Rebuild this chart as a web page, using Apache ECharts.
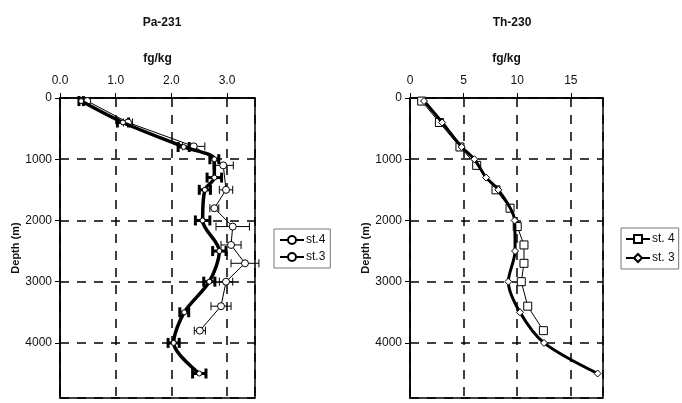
<!DOCTYPE html>
<html>
<head>
<meta charset="utf-8">
<script src="https://cdn.jsdelivr.net/npm/echarts@6/dist/echarts.min.js"></script>
<style>
  html, body { margin: 0; padding: 0; background: #fff; }
  #chart { width: 682px; height: 403px; }
</style>
</head>
<body>
<div id="chart"></div>
<script>
  // Pa-231 (fg/kg) profiles
  const paDepth4 = [50, 400, 790, 1100, 1500, 1800, 2100, 2400, 2700, 3000, 3400, 3800]
  const paSt4 = [0.49, 1.22, 2.4, 2.93, 2.98, 2.77, 3.1, 3.07, 3.32, 2.98, 2.89, 2.51]
  const paSt4Err = [0.05, 0.08, 0.2, 0.18, 0.12, 0.08, 0.3, 0.18, 0.25, 0.12, 0.18, 0.1]
  const paDepth3 = [50, 400, 800, 1000, 1300, 1500, 2000, 2500, 3000, 3500, 4000, 4500]
  const paSt3 = [0.38, 1.13, 2.22, 2.77, 2.77, 2.6, 2.56, 2.86, 2.68, 2.23, 2.04, 2.5]
  const paSt3Err = [0.04, 0.1, 0.1, 0.08, 0.13, 0.1, 0.13, 0.12, 0.1, 0.08, 0.1, 0.12]

  // Th-230 (fg/kg) profiles
  const thDepth4 = [50, 400, 800, 1100, 1500, 1800, 2100, 2400, 2700, 3000, 3400, 3800]
  const thSt4 = [1.09, 2.74, 4.66, 6.22, 8.02, 9.33, 10.0, 10.63, 10.63, 10.38, 10.98, 12.44]
  const thDepth3 = [50, 400, 800, 1000, 1300, 1500, 2000, 2500, 3000, 3500, 4000, 4500]
  const thSt3 = [1.31, 3.0, 4.82, 6.0, 7.1, 8.24, 9.76, 9.8, 9.17, 10.26, 12.5, 17.5]

  const font = 'Liberation Sans, Arial, sans-serif'
  const dash = [9, 8]

  function pairs(xs, ys) {
    return xs.map((v, i) => [v, ys[i]])
  }
  function errData(xs, ys, es) {
    return xs.map((v, i) => [v, ys[i], es[i]])
  }
  function errBars(lw, cap) {
    return function (params, api) {
      const x = api.value(0), y = api.value(1), e = api.value(2)
      const a = api.coord([x - e, y])
      const b = api.coord([x + e, y])
      const st = { stroke: '#000', lineWidth: lw }
      return {
        type: 'group',
        children: [
          { type: 'line', shape: { x1: a[0], y1: a[1], x2: b[0], y2: b[1] }, style: st },
          { type: 'line', shape: { x1: a[0], y1: a[1] - cap, x2: a[0], y2: a[1] + cap }, style: st },
          { type: 'line', shape: { x1: b[0], y1: b[1] - cap, x2: b[0], y2: b[1] + cap }, style: st }
        ]
      }
    }
  }

  function xAx(idx, max, interval, fmt) {
    return {
      type: 'value', gridIndex: idx, position: 'top', min: 0, max: max, interval: interval,
      name: 'fg/kg', nameLocation: 'middle', nameGap: 33,
      nameTextStyle: { fontFamily: font, fontWeight: 'bold', fontSize: 12, color: '#111' },
      axisLine: { show: true, lineStyle: { color: '#000', width: 1.5 } },
      axisTick: { show: true, length: 5, lineStyle: { color: '#000' } },
      axisLabel: { fontFamily: font, fontSize: 12, color: '#111', margin: 11, showMaxLabel: false, formatter: fmt },
      splitLine: { show: true, lineStyle: { color: '#000', width: 1.5, type: dash } }
    }
  }
  function yAx(idx) {
    return {
      type: 'value', gridIndex: idx, inverse: true, min: 0, max: 4900, interval: 1000,
      name: 'Depth (m)', nameLocation: 'middle', nameGap: 36, nameRotate: 90,
      nameTextStyle: { fontFamily: font, fontWeight: 'bold', fontSize: 11, color: '#111' },
      axisLine: { show: true, lineStyle: { color: '#000', width: 1.5 } },
      axisTick: { show: true, length: 5, lineStyle: { color: '#000' } },
      axisLabel: { fontFamily: font, fontSize: 12, color: '#111', margin: 8, showMaxLabel: false,
        formatter: v => String(v) },
      splitLine: { show: true, lineStyle: { color: '#000', width: 1.5, type: dash } }
    }
  }

  const chart = echarts.init(document.getElementById('chart'))
  chart.setOption({
    backgroundColor: '#fff',
    animation: false,
    title: [
      { text: 'Pa-231', left: 157, top: 12, textAlign: 'center',
        textStyle: { fontFamily: font, fontWeight: 'bold', fontSize: 12, color: '#111' } },
      { text: 'Th-230', left: 507, top: 12, textAlign: 'center',
        textStyle: { fontFamily: font, fontWeight: 'bold', fontSize: 12, color: '#111' } }
    ],
    grid: [
      { left: 60, top: 98, width: 195, height: 300, show: true, borderColor: '#000', borderWidth: 1.5, backgroundColor: 'transparent' },
      { left: 410, top: 98, width: 193, height: 300, show: true, borderColor: '#000', borderWidth: 1.5, backgroundColor: 'transparent' }
    ],
    xAxis: [
      xAx(0, 3.5, 1, v => v.toFixed(1)),
      xAx(1, 18, 5, v => String(v))
    ],
    yAxis: [yAx(0), yAx(1)],
    legend: [
      { data: ['st.4', 'st.3'], orient: 'vertical', left: 274, top: 229, itemWidth: 24, itemHeight: 10, itemGap: 5,
        padding: [5, 5], borderColor: '#777', borderWidth: 1, textStyle: { fontFamily: font, fontSize: 12, color: '#111', padding: [0, 0, 0, -3] } },
      { data: ['st. 4', 'st. 3'], orient: 'vertical', left: 621, top: 228, itemWidth: 24, itemHeight: 10, itemGap: 7,
        padding: [5, 4], borderColor: '#777', borderWidth: 1, textStyle: { fontFamily: font, fontSize: 12, color: '#111', padding: [0, 0, 0, -3] } }
    ],
    series: [
      { type: 'custom', xAxisIndex: 0, yAxisIndex: 0, renderItem: errBars(1, 4), encode: { x: 0, y: 1 },
        data: errData(paSt4, paDepth4, paSt4Err), z: 3 },
      { type: 'custom', xAxisIndex: 0, yAxisIndex: 0, renderItem: errBars(3, 5), encode: { x: 0, y: 1 },
        data: errData(paSt3, paDepth3, paSt3Err), z: 4 },
      { name: 'st.4', type: 'line', xAxisIndex: 0, yAxisIndex: 0, data: pairs(paSt4, paDepth4),
        symbol: 'circle', symbolSize: 7, lineStyle: { color: '#000', width: 1 },
        itemStyle: { color: '#fff', borderColor: '#000', borderWidth: 1 }, z: 5 },
      { name: 'st.3', type: 'line', xAxisIndex: 0, yAxisIndex: 0, data: pairs(paSt3, paDepth3), smooth: 0.3,
        symbol: 'circle', symbolSize: 5, lineStyle: { color: '#000', width: 3.5 },
        itemStyle: { color: '#fff', borderColor: '#000', borderWidth: 1 }, z: 6 },
      { name: 'st. 4', type: 'line', xAxisIndex: 1, yAxisIndex: 1, data: pairs(thSt4, thDepth4),
        symbol: 'rect', symbolSize: 8, lineStyle: { color: '#000', width: 1 },
        itemStyle: { color: '#fff', borderColor: '#000', borderWidth: 1 }, z: 5 },
      { name: 'st. 3', type: 'line', xAxisIndex: 1, yAxisIndex: 1, data: pairs(thSt3, thDepth3), smooth: 0.3,
        symbol: 'diamond', symbolSize: 7, lineStyle: { color: '#000', width: 3 },
        itemStyle: { color: '#fff', borderColor: '#000', borderWidth: 1 }, z: 6 }
    ]
  })
</script>
</body>
</html>
